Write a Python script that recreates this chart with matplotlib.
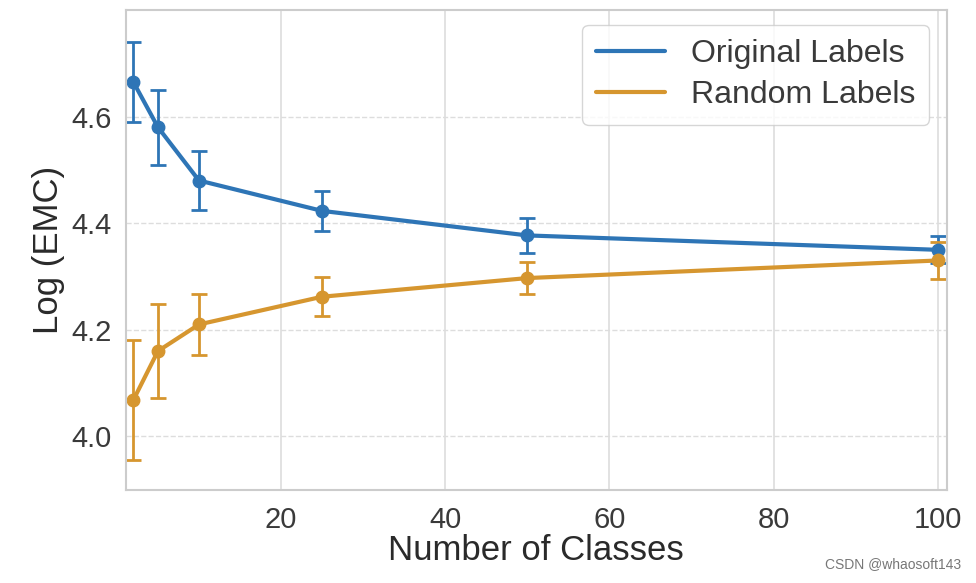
import matplotlib
matplotlib.use("Agg")
import matplotlib.pyplot as plt
import seaborn as sns
from matplotlib.lines import Line2D

sns.set_style("whitegrid")
plt.rcParams['font.family'] = ['Liberation Sans', 'DejaVu Sans']

classes = [2, 5, 10, 25, 50, 100]
orig_mean = [4.665, 4.580, 4.480, 4.423, 4.377, 4.350]
orig_err = [0.075, 0.070, 0.055, 0.037, 0.033, 0.025]
rand_mean = [4.068, 4.160, 4.210, 4.262, 4.297, 4.330]
rand_err = [0.113, 0.088, 0.057, 0.037, 0.030, 0.035]

blue = '#2e75b6'
orange = '#d6962f'

fig = plt.figure(figsize=(9.76, 5.83), dpi=100)
ax = fig.add_axes([0.129, 0.16, 0.841, 0.823])

ax.errorbar(classes, orig_mean, yerr=orig_err, color=blue, lw=3, marker='o',
            ms=9, capsize=6, capthick=2, elinewidth=2, label='Original Labels')
ax.errorbar(classes, rand_mean, yerr=rand_err, color=orange, lw=3, marker='o',
            ms=9, capsize=6, capthick=2, elinewidth=2, label='Random Labels')

ax.set_xlim(1.1, 101.1)
ax.set_ylim(3.9, 4.8)
ax.set_xticks([20, 40, 60, 80, 100])
ax.set_yticks([4.0, 4.2, 4.4, 4.6])
ax.tick_params(labelsize=21, colors='#3a3a3a')
ax.tick_params(axis='x', pad=8)
ax.tick_params(axis='y', pad=7)
ax.xaxis.grid(True, color='#dddddd', lw=1.2)
ax.yaxis.grid(True, color='#dddddd', lw=1, ls='--')
for s in ax.spines.values():
    s.set_color('#cccccc')
    s.set_linewidth(1.5)

ax.set_xlabel('Number of Classes', fontsize=25, color='#2a2a2a', labelpad=0)
ax.set_ylabel('Log (EMC)', fontsize=25, color='#2a2a2a', labelpad=4)

labels = ['Original Labels', 'Random Labels']
h = [Line2D([], [], color=blue, lw=3), Line2D([], [], color=orange, lw=3)]
leg = ax.legend(h, labels, loc='upper right', fontsize=23, frameon=True,
                handlelength=2.15, borderpad=0.45, labelspacing=0.35,
                handletextpad=0.8, borderaxespad=0,
                bbox_to_anchor=(0.979, 0.969))
for t in leg.get_texts():
    t.set_color('#3a3a3a')

fig.text(0.985, 0.02, 'CSDN @whaosoft143', ha='right', va='bottom',
         fontsize=10, color='#777777')

plt.savefig('out.png')
